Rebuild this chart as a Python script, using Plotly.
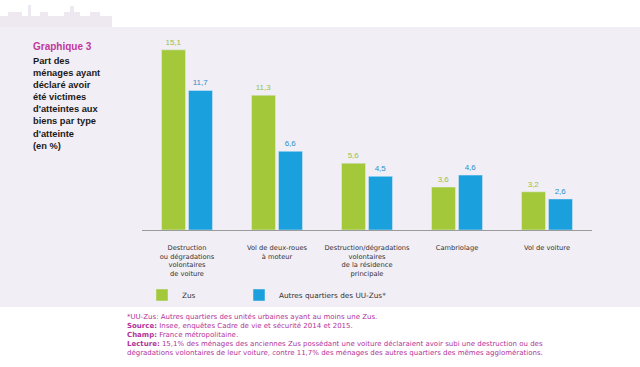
import plotly.graph_objects as go

categories = [
    "Destruction<br>ou dégradations<br>volontaires<br>de voiture",
    "Vol de deux-roues<br>à moteur",
    "Destruction/dégradations<br>volontaires<br>de la résidence<br>principale",
    "Cambriolage",
    "Vol de voiture",
]
zus = [15.1, 11.3, 5.6, 3.6, 3.2]
autres = [11.7, 6.6, 4.5, 4.6, 2.6]
series_names = ["Zus", "Autres quartiers des UU-Zus*"]

title_lines = ["Part des", "ménages ayant", "déclaré avoir", "été victimes",
               "d'atteintes aux", "biens par type", "d'atteinte", "(en %)"]
footnote_lines = [
    "*UU-Zus: Autres quartiers des unités urbaines ayant au moins une Zus.",
    "<b>Source:</b> Insee, enquêtes Cadre de vie et sécurité 2014 et 2015.",
    "<b>Champ:</b> France métropolitaine.",
    "<b>Lecture:</b> 15,1% des ménages des anciennes Zus possédant une voiture déclaraient avoir subi une destruction ou des",
    "dégradations volontaires de leur voiture, contre 11,7% des ménages des autres quartiers des mêmes agglomérations.",
]

GREEN = "#a3c93a"
BLUE = "#1aa0dc"
GREEN_TXT = "#96c147"
BLUE_TXT = "#2b8fc8"
LAV = "#f2eef5"
SKY = "#eee9f1"
PINK = "#c0399c"
FOOT = "#b2339a"
FONT = "Liberation Sans, Arial, sans-serif"
WFONT = "DejaVu Sans, sans-serif"

W, H = 640, 367
BASE = 230        # page y of bar baseline
PTOP = 30         # page y of plot top
LEFT, RIGHT = 142, 592
ML, MR, MT, MB = LEFT, W - RIGHT, PTOP, H - BASE
PW, PH = W - ML - MR, H - MT - MB


def px(x):
    return (x - LEFT) / PW


def py(y):
    return (BASE - y) / PH


fig = go.Figure()
fig.add_trace(go.Bar(x=categories, y=zus, name=series_names[0], marker_color=GREEN,
                     texttemplate="%{y:.1f}", textposition="outside", legend="legend",
                     textfont=dict(color=GREEN_TXT, size=8, family=FONT), cliponaxis=False))
fig.add_trace(go.Bar(x=categories, y=autres, name=series_names[1], marker_color=BLUE,
                     texttemplate="%{y:.1f}", textposition="outside", legend="legend2",
                     textfont=dict(color=BLUE_TXT, size=8, family=FONT), cliponaxis=False))

ymax = PH / 11.93

sky_pts = [(0, 27), (0, 16), (8, 16), (8, 12), (22, 12), (22, 16), (28, 16), (28, 5), (31, 5),
           (31, 16), (40, 16), (40, 12), (48, 12), (48, 16), (64, 16), (64, 12), (70, 12),
           (70, 6), (74, 6), (74, 12), (80, 12), (80, 16), (90, 16), (90, 12), (100, 12),
           (100, 16), (112, 16), (112, 27)]
path = "M " + " L ".join(f"{px(x):.5f},{py(y):.5f}" for x, y in sky_pts) + " Z"

shapes = [
    dict(type="rect", xref="paper", yref="paper", x0=px(0), x1=px(640),
         y0=py(307), y1=py(27), fillcolor=LAV, line_width=0, layer="below"),
    dict(type="path", xref="paper", yref="paper", path=path,
         fillcolor=SKY, line_width=0, layer="below"),
]

annotations = [
    dict(xref="paper", yref="paper", x=px(31), y=py(47),
         text="<b>Graphique 3</b>", showarrow=False, xanchor="left", yanchor="middle",
         font=dict(color=PINK, size=10, family=FONT)),
    dict(xref="paper", yref="paper", x=px(31), y=py(54),
         text="<br>".join("<b>" + l + "</b>" for l in title_lines),
         showarrow=False, xanchor="left", yanchor="top", align="left",
         font=dict(color="#1a1a1a", size=9.3, family=FONT)),
    dict(xref="paper", yref="paper", x=px(125), y=py(311),
         text="<br>".join(footnote_lines),
         showarrow=False, xanchor="left", yanchor="top", align="left",
         font=dict(color=FOOT, size=7, family=WFONT)),
]

leg_common = dict(orientation="h", xanchor="left", yanchor="middle", y=py(295),
                  font=dict(size=7.3, color="#333333", family=WFONT),
                  bgcolor="rgba(0,0,0,0)")

fig.update_layout(
    width=W, height=H,
    margin=dict(l=ML, r=MR, t=MT, b=MB, pad=0),
    paper_bgcolor="white", plot_bgcolor="rgba(0,0,0,0)",
    barmode="group", bargap=0.4, bargroupgap=0.11,
    separators=", ",
    font=dict(family=FONT, color="#333333"),
    showlegend=True,
    legend=dict(x=px(142), **leg_common),
    legend2=dict(x=px(239), **leg_common),
    xaxis=dict(showgrid=False, showline=True, linecolor="#9a9a9a", linewidth=1,
               ticks="", tickfont=dict(size=6.7, color="#333333", family=WFONT),
               ticklabelstandoff=11, range=[-0.5, 4.5]),
    yaxis=dict(visible=False, range=[0, ymax]),
    shapes=shapes, annotations=annotations,
)

fig.write_html("out.html", config={"displayModeBar": False},
               post_script="document.body.style.margin='0';document.body.style.overflow='hidden';")
